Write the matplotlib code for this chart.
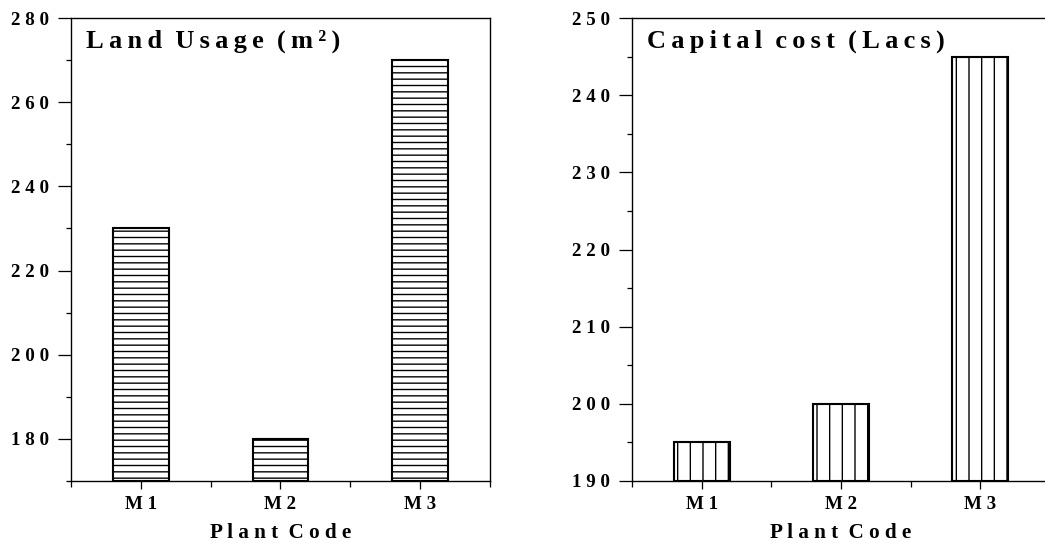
import numpy as np
import matplotlib.pyplot as plt
from matplotlib.ticker import MultipleLocator, FixedLocator

plantas = ['M 1', 'M 2', 'M 3']
terreno = [230, 180, 270]
costo = [195, 200, 245]

DPI = 76
plt.rcParams['font.family'] = 'Liberation Serif'
plt.rcParams['font.weight'] = 'bold'
plt.rcParams['hatch.linewidth'] = 1.3
plt.rcParams['hatch.color'] = 'black'

fig = plt.figure(figsize=(1045 / DPI, 556 / DPI), dpi=DPI)
ax1 = fig.add_axes([0.0679, 0.1349, 0.401, 0.8327])
ax2 = fig.add_axes([0.6048, 0.1349, 0.400, 0.8327])

def espaciar(s, sep='\u2009'):
    return sep.join(s)

def panel(ax, valores, patron, ylim, mayor, menor, titulo):
    x = np.arange(len(plantas))
    ax.bar(x, [v - ylim[0] for v in valores], bottom=ylim[0], width=0.4,
           color='white', edgecolor='black', linewidth=2, hatch=patron)
    ax.set_xlim(-0.5, 2.5)
    ax.set_ylim(*ylim)
    ax.set_xticks(x)
    ax.set_xticklabels(plantas, fontsize=18, fontweight='bold')
    ax.xaxis.set_minor_locator(FixedLocator([-0.5, 0.5, 1.5, 2.5]))
    ax.yaxis.set_minor_locator(MultipleLocator(menor))
    inicio = int(np.ceil(ylim[0] / mayor) * mayor)
    ticks = np.arange(inicio, ylim[1] + 1, mayor)
    ax.set_yticks(ticks)
    ax.set_yticklabels([espaciar(str(int(t)), ' ') for t in ticks],
                       fontsize=18, fontweight='bold')
    ax.tick_params(axis='y', which='major', length=12, width=1.2, pad=9)
    ax.tick_params(axis='y', which='minor', length=5, width=1.2)
    ax.tick_params(axis='x', which='major', length=8, width=1.2, pad=6)
    ax.tick_params(axis='x', which='minor', length=6, width=1.2)
    for sp in ax.spines.values():
        sp.set_linewidth(1.3)
    ax.set_xlabel(espaciar('Plant', ' ') + '  ' + espaciar('Code', ' '),
                  fontsize=20, fontweight='bold', labelpad=10)
    ax.text(0.035, 0.975, titulo, transform=ax.transAxes, fontsize=25,
            fontweight='bold', va='top', ha='left')

panel(ax1, terreno, '--', (170, 280), 20, 10,
      '  '.join(espaciar(w) for w in ['Land', 'Usage', '(m²)']))
panel(ax2, costo, '|', (190, 250), 10, 5,
      '  '.join(espaciar(w) for w in ['Capital', 'cost', '(Lacs)']))

fig.savefig('out.png', dpi=DPI)
